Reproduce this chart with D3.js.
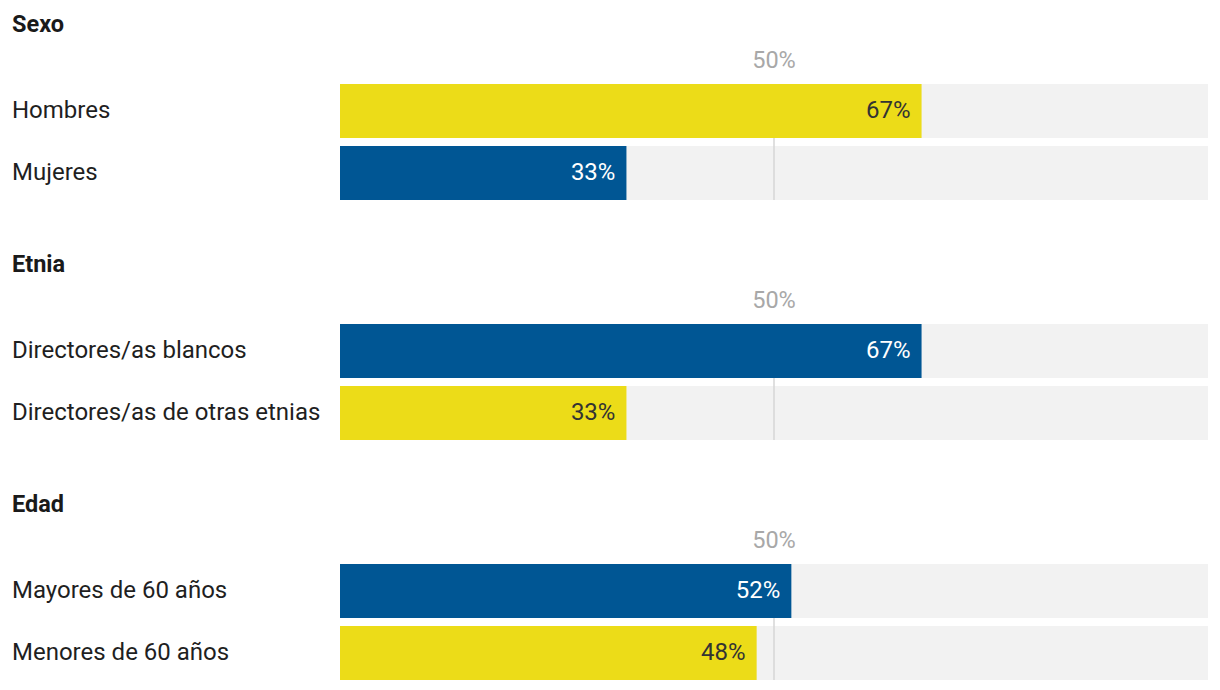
<!DOCTYPE html>
<html>
<head>
<meta charset="utf-8">
<script src="https://cdn.jsdelivr.net/npm/d3@7"></script>
<style>
  html, body { margin: 0; padding: 0; background: #fff; }
  svg { display: block; font-family: Roboto, "Noto Sans", sans-serif; }
</style>
</head>
<body>
<svg id="chart" width="1220" height="690"></svg>
<script>
const groups = ["Sexo", "Etnia", "Edad"];
const categories = [
  ["Hombres", "Mujeres"],
  ["Directores/as blancos", "Directores/as de otras etnias"],
  ["Mayores de 60 años", "Menores de 60 años"]
];
const values = [
  [67, 33],
  [67, 33],
  [52, 48]
];
const colorKeys = [
  ["yellow", "blue"],
  ["blue", "yellow"],
  ["blue", "yellow"]
];
const referenceValue = 50;
const referenceLabel = "50%";

const palette = { yellow: "#ecdc18", blue: "#005694" };
const labelColor = { yellow: "#333333", blue: "#ffffff" };

const svg = d3.select("#chart");
const x = d3.scaleLinear().domain([0, 100]).range([340, 1208]);
const groupStep = 240;

groups.forEach((g, gi) => {
  const off = gi * groupStep;
  const gEl = svg.append("g").attr("transform", `translate(0,${off})`);
  const y = d3.scaleBand()
    .domain(categories[gi])
    .range([84, 200])
    .paddingInner(8 / 62)
    .paddingOuter(0);

  gEl.append("text")
    .attr("x", 12).attr("y", 32)
    .attr("font-size", 23.5).attr("font-weight", 700)
    .attr("fill", "#1a1a1a")
    .text(g);

  gEl.append("text")
    .attr("x", x(referenceValue)).attr("y", 68)
    .attr("text-anchor", "middle")
    .attr("font-size", 23.5)
    .attr("fill", "#a8a8a8")
    .text(referenceLabel);

  const rows = categories[gi].map((c, i) => ({ c, v: values[gi][i], k: colorKeys[gi][i] }));

  gEl.selectAll("rect.track").data(rows).join("rect")
    .attr("class", "track")
    .attr("x", x(0)).attr("y", d => y(d.c))
    .attr("width", x(100) - x(0)).attr("height", y.bandwidth())
    .attr("fill", "#f2f2f2");

  gEl.append("line")
    .attr("x1", x(referenceValue)).attr("x2", x(referenceValue))
    .attr("y1", y.range()[0]).attr("y2", y.range()[1])
    .attr("stroke", "#d6d6d6").attr("stroke-width", 1.5);

  gEl.selectAll("rect.bar").data(rows).join("rect")
    .attr("class", "bar")
    .attr("x", x(0)).attr("y", d => y(d.c))
    .attr("width", d => x(d.v) - x(0)).attr("height", y.bandwidth())
    .attr("fill", d => palette[d.k]);

  gEl.selectAll("text.cat").data(rows).join("text")
    .attr("class", "cat")
    .attr("x", 12).attr("y", d => y(d.c) + y.bandwidth() / 2 + 6.5)
    .attr("font-size", 24)
    .attr("fill", "#1f1f1f")
    .text(d => d.c);

  gEl.selectAll("text.val").data(rows).join("text")
    .attr("class", "val")
    .attr("x", d => x(d.v) - 11).attr("y", d => y(d.c) + y.bandwidth() / 2 + 6.5)
    .attr("text-anchor", "end")
    .attr("font-size", 24)
    .attr("fill", d => labelColor[d.k])
    .text(d => d.v + "%");
});
</script>
</body>
</html>
